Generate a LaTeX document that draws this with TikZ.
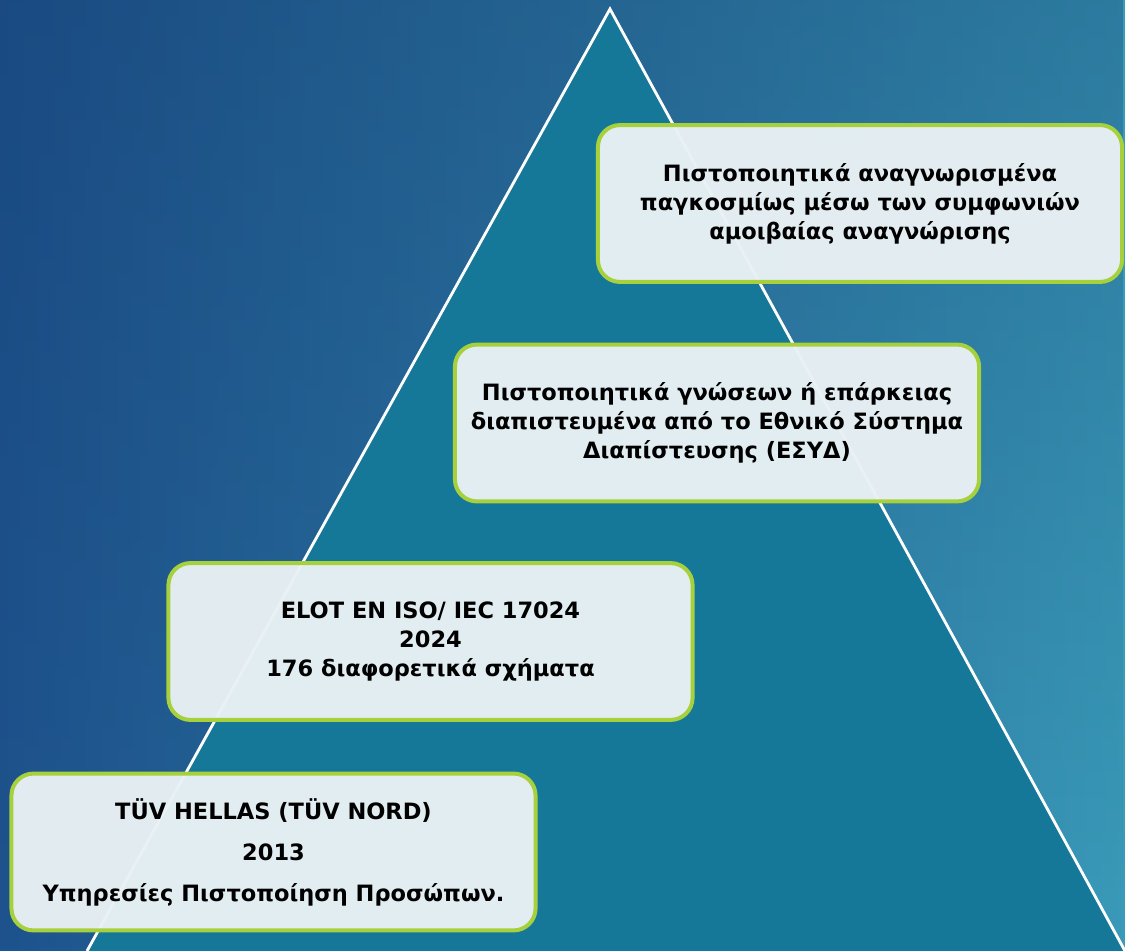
\documentclass[tikz,border=0pt]{standalone}
\usepackage{fontspec}
\setmainfont{DejaVu Sans}
\usetikzlibrary{fadings}

\definecolor{bgleft}{HTML}{1E538D}
\definecolor{bgright}{HTML}{3A9BB9}
\definecolor{bgtop}{HTML}{12386A}
\definecolor{pyramid}{HTML}{167899}
\definecolor{boxfill}{HTML}{E9F1F4}
\definecolor{boxline}{HTML}{A6D03C}

\tikzset{
  stage/.style={draw=boxline, fill=boxfill, fill opacity=0.97, text opacity=1,
    line width=0.1cm, rounded corners=0.55cm,
    minimum width=13.1cm, minimum height=3.92cm, align=center,
    font=\bfseries\fontsize{16}{20.6}\selectfont},
}

\begin{document}
\begin{tikzpicture}[x=0.025cm,y=-0.025cm]
	\useasboundingbox (0,0) rectangle (1125,951);
	% background
	\shade[left color=bgleft, right color=bgright] (0,0) rectangle (1125,951);
	\fill[bgtop, path fading=south, fill opacity=0.32] (0,0) rectangle (1125,951);
	
	% pyramid
	\coordinate (apex) at (610,9);
	\coordinate (base left) at (87,951);
	\coordinate (base right) at (1125,951);
	\fill[pyramid] (apex) -- (base right) -- (base left) -- cycle;
	\draw[white, line width=0.07cm] (base left) -- (apex) -- (base right);
	
	% stages, top to bottom
	\node[stage] (mra) at (860,203.5)
	   {Πιστοποιητικά αναγνωρισμένα\\παγκοσμίως μέσω των συμφωνιών\\αμοιβαίας αναγνώρισης};
	\node[stage] (esyd) at (717,423)
	   {Πιστοποιητικά γνώσεων ή επάρκειας\\διαπιστευμένα από το Εθνικό Σύστημα\\Διαπίστευσης (ΕΣΥΔ)};
	\node[stage] (elot) at (430.5,641.5)
	   {ELOT EN ISO/ IEC 17024\\2024\\176 διαφορετικά σχήματα};
	\node[stage] (tuv) at (273.5,852)
	   {TÜV HELLAS (TÜV NORD)\\[8.5pt]2013\\[8.5pt]Υπηρεσίες Πιστοποίηση Προσώπων.};
\end{tikzpicture}
\end{document}
